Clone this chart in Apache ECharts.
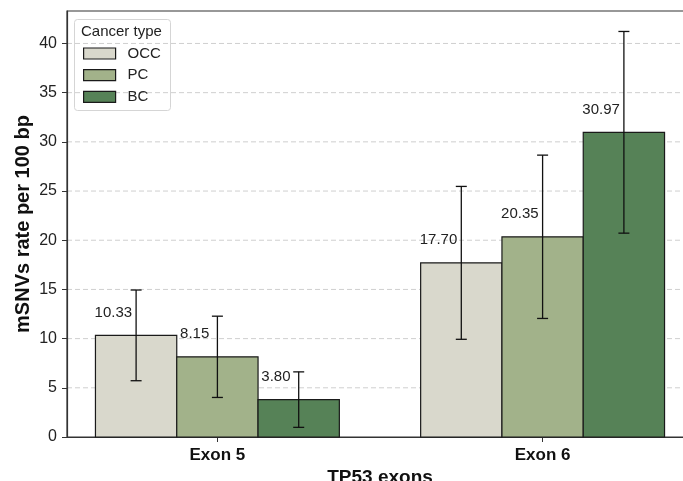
<!DOCTYPE html>
<html>
<head>
<meta charset="utf-8">
<script src="https://cdn.jsdelivr.net/npm/echarts@6/dist/echarts.min.js"></script>
<style>
  html, body { margin: 0; padding: 0; background: #fff; }
  #chart { width: 683px; height: 481px; }
</style>
</head>
<body>
<div id="chart"></div>
<script>
// Mutation rate per exon, grouped by cancer type
const categories = ['Exon 5', 'Exon 6'];
const cancerTypes = ['OCC', 'PC', 'BC'];
const occRates = [10.33, 17.70];
const pcRates = [8.15, 20.35];
const bcRates = [3.80, 30.97];
const occErrors = [4.61, 7.77];
const pcErrors = [4.13, 8.30];
const bcErrors = [2.82, 10.25];
const yTicks = [0, 5, 10, 15, 20, 25, 30, 35, 40];

const rates = [occRates, pcRates, bcRates];
const errors = [occErrors, pcErrors, bcErrors];
const colors = ['#d9d8cc', '#a2b28a', '#568257'];
const barW = 0.25;
const offsets = [-0.25, 0, 0.25];
const X_MIN = -0.4625, X_MAX = 1.4625;
const FONT = '"Liberation Sans", Arial, sans-serif';

function makeRender(si) {
  return function (params, api) {
    const xc = api.value(0) + offsets[si];
    const v = api.value(1);
    const e = api.value(2);
    const p0 = api.coord([xc - barW / 2, v]);
    const p1 = api.coord([xc + barW / 2, 0]);
    const top = api.coord([xc, v + e]);
    const bot = api.coord([xc, v - e]);
    const lbl = api.coord([xc - 0.07, v + 2.33]);
    const cap = 5.5;
    const lineStyle = { stroke: '#111', lineWidth: 1.3 };
    return {
      type: 'group',
      children: [
        {
          type: 'rect',
          shape: { x: p0[0], y: p0[1], width: p1[0] - p0[0], height: p1[1] - p0[1] },
          style: { fill: colors[si], stroke: '#1a1a1a', lineWidth: 1.2 }
        },
        { type: 'line', shape: { x1: top[0], y1: top[1], x2: bot[0], y2: bot[1] }, style: lineStyle },
        { type: 'line', shape: { x1: top[0] - cap, y1: top[1], x2: top[0] + cap, y2: top[1] }, style: lineStyle },
        { type: 'line', shape: { x1: bot[0] - cap, y1: bot[1], x2: bot[0] + cap, y2: bot[1] }, style: lineStyle },
        {
          type: 'text',
          x: lbl[0], y: lbl[1],
          style: {
            text: v.toFixed(2), fill: '#222', font: '15px ' + FONT,
            align: 'center', verticalAlign: 'middle'
          }
        }
      ]
    };
  };
}

const series = cancerTypes.map(function (name, si) {
  return {
    name: name,
    type: 'custom',
    itemStyle: { color: colors[si], borderColor: '#1a1a1a', borderWidth: 1.2 },
    renderItem: makeRender(si),
    encode: { x: 0, y: 1 },
    data: categories.map(function (c, ci) { return [ci, rates[si][ci], errors[si][ci]]; })
  };
});

const chart = echarts.init(document.getElementById('chart'), null, { renderer: 'canvas' });
chart.setOption({
  animation: false,
  backgroundColor: '#fff',
  grid: {
    left: 67, top: 11, right: -10, bottom: 44,
    outerBoundsMode: 'none', containLabel: false,
    show: true, borderColor: '#333', borderWidth: 1.2, backgroundColor: 'transparent'
  },
  legend: {
    left: 83, top: 46, orient: 'vertical', padding: 0,
    itemWidth: 32, itemHeight: 11, itemGap: 6.7,
    textStyle: { fontFamily: FONT, fontSize: 15, color: '#222', padding: [0, 0, 0, 7] },
    data: cancerTypes.map(function (n, i) {
      return { name: n, icon: 'rect', itemStyle: { color: colors[i], borderColor: '#1a1a1a', borderWidth: 1.2 } };
    })
  },
  graphic: [
    {
      type: 'rect', left: 74, top: 19, z: 0,
      shape: { width: 96, height: 91, r: 3 },
      style: { fill: '#fff', stroke: '#d5d5d5', lineWidth: 1 }
    },
    {
      type: 'text', left: 81, top: 24, z: 10,
      style: { text: 'Cancer type', font: '15px ' + FONT, fill: '#222' }
    }
  ],
  xAxis: {
    type: 'value',
    min: X_MIN, max: X_MAX,
    name: 'TP53 exons', nameLocation: 'middle', nameGap: 31, nameMoveOverlap: false,
    nameTextStyle: { fontFamily: FONT, fontSize: 19, fontWeight: 'bold', color: '#111' },
    axisLine: { onZero: false, lineStyle: { color: '#333', width: 1.2 } },
    axisTick: { show: true, customValues: [0, 1], length: 5, lineStyle: { color: '#333' } },
    axisLabel: {
      customValues: [0, 1],
      formatter: function (v) { return categories[Math.round(v)]; },
      fontFamily: FONT, fontSize: 17, fontWeight: 'bold', color: '#111', margin: 10
    },
    splitLine: { show: false }
  },
  yAxis: {
    type: 'value',
    min: 0, max: 43.3,
    name: 'mSNVs rate per 100 bp', nameLocation: 'middle', nameGap: 34, nameMoveOverlap: false,
    nameTextStyle: { fontFamily: FONT, fontSize: 20, fontWeight: 'bold', color: '#111' },
    axisLine: { show: true, onZero: false, lineStyle: { color: '#333', width: 1.2 } },
    axisTick: { show: true, customValues: yTicks, length: 5, lineStyle: { color: '#333' } },
    axisLabel: {
      customValues: yTicks,
      fontFamily: FONT, fontSize: 16, color: '#222', margin: 10
    },
    splitLine: { show: false }
  },
  series: series.concat([{
    // dashed horizontal gridlines at the major ticks
    type: 'custom',
    silent: true,
    z: 0,
    renderItem: function (params, api) {
      const y = api.value(0);
      const a = api.coord([X_MIN, y]);
      const b = api.coord([X_MAX, y]);
      return {
        type: 'line',
        shape: { x1: a[0], y1: a[1], x2: b[0], y2: b[1] },
        style: { stroke: '#cfcfcf', lineWidth: 1, lineDash: [5, 3] }
      };
    },
    encode: { y: 0 },
    data: yTicks.slice(1).map(function (t) { return [t]; })
  }])
});
</script>
</body>
</html>
